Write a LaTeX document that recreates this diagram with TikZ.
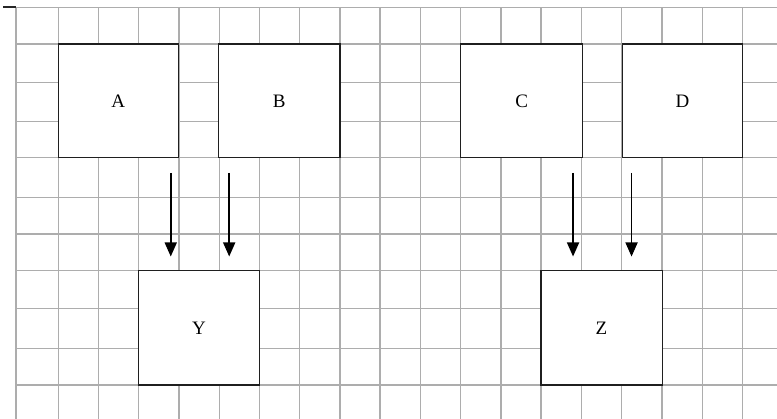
\documentclass[tikz,border=0pt]{standalone}
\usepackage{fontspec}
\setmainfont{Liberation Serif}
\usetikzlibrary{arrows.meta}
\begin{document}
\begin{tikzpicture}[x=1pt,y=-1pt,
  gridline/.style={draw=black!32, line width=1.4pt},
  box/.style={draw=black!88, fill=white, line width=1.5pt, inner sep=0pt, font=\fontsize{19}{19}\selectfont},
  arr/.style={draw=black, line width=1.5pt, shorten >=13.5pt, -{Triangle[length=14pt,width=12pt]}}]
\useasboundingbox (0,0) rectangle (777,419);
\fill[white] (0,0) rectangle (777,419);
% grid
\foreach \gx in {16,58.3,98.5,138.5,179,219.2,259.5,299.7,339.9,380.1,420.4,460.6,500.8,541,581.3,621.5,661.8,702.3,742.5}
  \draw[gridline] (\gx,7.3) -- (\gx,419);
\foreach \gy in {7.3,44,82.7,121.7,157.7,197.3,234,270.7,308.3,348.3,385}
  \draw[gridline] (16,\gy) -- (777,\gy);
\draw[black!85, line width=1.5pt] (3,7) -- (16,7);
% boxes
\node[box, minimum width=120, minimum height=113.7] (A) at (118.3,100.9) {A};
\node[box, minimum width=121.7, minimum height=113.7] (B) at (279.1,100.9) {B};
\node[box, minimum width=122, minimum height=113.7] (C) at (521.6,100.9) {C};
\node[box, minimum width=120.4, minimum height=113.7] (D) at (682.5,100.9) {D};
\node[box, minimum width=121, minimum height=114.3] (Y) at (199,327.9) {Y};
\node[box, minimum width=121.5, minimum height=114.3] (Z) at (601.5,327.9) {Z};
% arrow start points
\coordinate (a1) at ([xshift=-8.3pt,yshift=-14.5pt]A.south east);
\coordinate (b1) at ([xshift=11.7pt,yshift=-14.5pt]B.south west);
\coordinate (c1) at ([xshift=-10.3pt,yshift=-14.5pt]C.south east);
\coordinate (d1) at ([xshift=10pt,yshift=-14.5pt]D.south west);
% arrows
\draw[arr] (a1) -- (a1 |- Y.north);
\draw[arr] (b1) -- (b1 |- Y.north);
\draw[arr] (c1) -- (c1 |- Z.north);
\draw[arr] (d1) -- (d1 |- Z.north);
\end{tikzpicture}
\end{document}
